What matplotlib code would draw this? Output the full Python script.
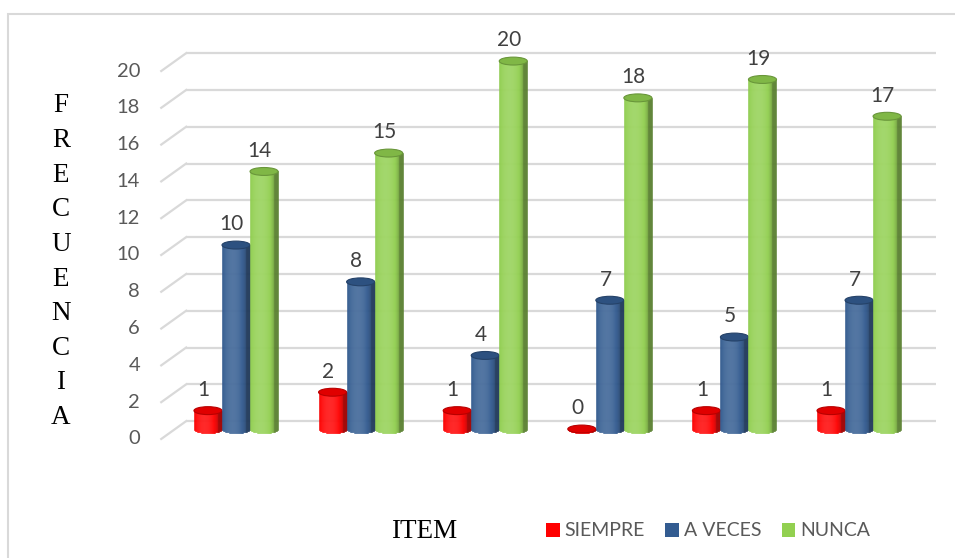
import numpy as np
import matplotlib
matplotlib.use('Agg')
import matplotlib.pyplot as plt
from matplotlib.patches import Ellipse, Patch, Rectangle
from matplotlib.colors import to_rgb

# data
items = ['1', '2', '3', '4', '5', '6']
siempre = [1, 2, 1, 0, 1, 1]
a_veces = [10, 8, 4, 7, 5, 7]
nunca = [14, 15, 20, 18, 19, 17]
series_names = ['SIEMPRE', 'A VECES', 'NUNCA']
series_colors = ['#FF0000', '#335C91', '#92D050']
yticks = list(range(0, 21, 2))

fig = plt.figure(figsize=(9.55, 5.58), dpi=100)
ax = fig.add_axes([0, 0, 1, 1])
ax.set_xlim(-1.894, 5.770)
ax.set_ylim(-7.01, 23.32)
ax.axis('off')

# chart frame
fig.patches.append(Rectangle((8 / 955, -0.1), 1.2, 1 - 14 / 558 + 0.1,
                             transform=fig.transFigure, fill=False,
                             edgecolor='#D9D9D9', linewidth=1.5))

# 3D style gridlines: back wall + side diagonal
back_dy = 0.43
front_dy = -0.54
grid_c = '#D9D9D9'
for v in yticks:
    ax.plot([-0.40, 5.62], [v + back_dy, v + back_dy], color=grid_c, lw=1.6,
            solid_capstyle='butt', zorder=1)
    ax.plot([-0.60, -0.40], [v + front_dy, v + back_dy], color=grid_c, lw=1.6,
            zorder=1)
    ax.text(-0.77, v + front_dy, str(v), ha='right', va='center',
            fontsize=14.5, color='#595959', family='Lato')


def shade(color, f):
    r, g, b = to_rgb(color)
    if f >= 1:
        k = f - 1
        return (r + (1 - r) * k, g + (1 - g) * k, b + (1 - b) * k)
    return (r * f, g * f, b * f)


def cylinder(xc, h, w, color, z):
    n = 28
    eh = 0.43
    edges = np.linspace(xc - w / 2, xc + w / 2, n + 1)
    mids = (edges[:-1] + edges[1:]) / 2
    t = (mids - xc) / (w / 2)
    light = np.sqrt(np.clip(1 - (t + 0.25) ** 2, 0, 1))
    facs = 0.62 + 0.5 * light
    cols = [shade(color, f) for f in facs]
    bottoms = -eh / 2 * np.sqrt(np.clip(1 - t ** 2, 0, 1))
    ax.bar(mids, h - bottoms, width=w / n, bottom=bottoms, color=cols,
           edgecolor=cols, linewidth=0.4, zorder=z)
    ax.add_patch(Ellipse((xc, h), w, eh, facecolor=shade(color, 0.88),
                         edgecolor=shade(color, 0.72), linewidth=0.8,
                         zorder=z + 0.1))


bw = 0.225
offsets = [-bw, 0, bw]
for i, vals in enumerate([siempre, a_veces, nunca]):
    for j, v in enumerate(vals):
        xc = j + offsets[i]
        cylinder(xc, v, bw, series_colors[i], 3 + i)
        ax.text(xc - 0.035, v + 1.12, str(v), ha='center', va='center',
                fontsize=15, color='#404040', family='Lato', zorder=10)

# axis titles
for k, ch in enumerate('FRECUENCIA'):
    fig.text(61 / 955, 1 - (106 + k * 34.6) / 558, ch, ha='center',
             va='center', fontsize=19.5, family='Liberation Serif', color='black')
fig.text(424 / 955, 1 - 531 / 558, 'ITEM', ha='center', va='center',
         fontsize=19.5, family='Liberation Serif', color='black')

handles = [Patch(facecolor=c, edgecolor='none') for c in series_colors]
leg = fig.legend(handles, series_names, ncol=3, frameon=False,
                 loc='center left', bbox_to_anchor=(546 / 955, 1 - 531 / 558),
                 borderaxespad=0, borderpad=0, handlelength=0.7,
                 handleheight=0.7, handletextpad=0.25, columnspacing=1.05,
                 prop={'family': 'Lato', 'size': 14})
for txt in leg.get_texts():
    txt.set_color('#595959')

fig.savefig('out.png', dpi=100)
